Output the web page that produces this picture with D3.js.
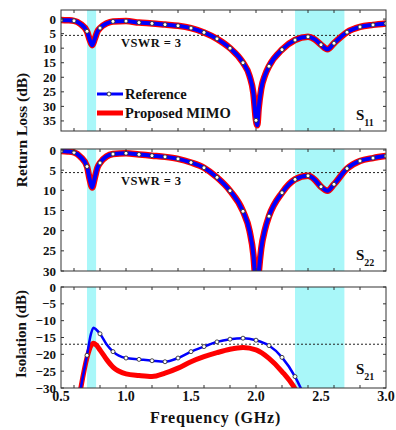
<!DOCTYPE html>
<html><head><meta charset="utf-8">
<script src="https://cdn.jsdelivr.net/npm/d3@7"></script>
<style>
body{margin:0;background:#fff}
text{font-family:"Liberation Serif","Times New Roman",serif;font-weight:bold;fill:#111}
</style>
</head><body>
<svg id="c" width="396" height="430"></svg>
<script>
// ---------- data ----------
const freqRL = [0.5,0.55,0.6,0.65,0.7,0.72,0.74,0.76,0.78,0.8,0.85,0.9,1.0,1.1,1.2,1.3,1.4,1.5,1.6,1.7,1.8,1.9,1.95,1.98,2.0,2.01,2.02,2.04,2.07,2.1,2.2,2.3,2.4,2.45,2.5,2.55,2.6,2.7,2.8,2.9,3.0];
const s11Ref = [0.3,0.4,0.6,1.7,4.2,7.0,9.0,6.8,4.3,3.1,1.5,0.8,0.7,1.2,1.5,1.9,2.3,3.1,4.6,6.8,10.0,15.0,19.5,25.5,34.8,36.5,31,24,19.2,16.2,10.5,7.2,6.1,6.9,8.8,10.4,8.3,4.5,2.7,2.0,1.5];
const s11Prop = [0.3,0.4,0.6,1.7,4.2,7.0,9.0,6.8,4.3,3.1,1.5,0.8,0.7,1.2,1.5,1.9,2.3,3.1,4.6,6.8,10.0,15.0,19.5,25.5,34.8,36.5,31,24,19.2,16.2,10.5,7.2,6.1,6.9,8.8,10.4,8.3,4.5,2.7,2.0,1.5];
const s22Ref = [0.25,0.35,0.6,1.7,4.1,7.2,9.3,6.9,4.4,3.2,1.6,1.0,0.8,1.1,1.4,1.7,2.2,3.1,4.4,6.8,10.1,15.2,20,26,34,36,31,24.5,19.6,16.4,10.6,7.3,6.4,7.3,9.1,10.1,8.5,4.6,2.7,2.0,1.5];
const s22Prop = [0.25,0.35,0.6,1.7,4.1,7.2,9.3,6.9,4.4,3.2,1.6,1.0,0.8,1.1,1.4,1.7,2.2,3.1,4.4,6.8,10.1,15.2,20,26,34,36,31,24.5,19.6,16.4,10.6,7.3,6.4,7.3,9.1,10.1,8.5,4.6,2.7,2.0,1.5];
const freqIso = [0.6,0.65,0.7,0.73,0.75,0.77,0.8,0.85,0.9,1.0,1.1,1.2,1.3,1.4,1.5,1.6,1.7,1.8,1.9,2.0,2.1,2.2,2.3,2.35,2.4];
const s21Ref = [-42,-30.5,-20.3,-14,-12.1,-12.6,-13.9,-17,-19.2,-21.1,-21.5,-21.9,-22.2,-21.1,-19.2,-17.7,-16.3,-15.5,-15.2,-15.8,-17.4,-20.9,-26.6,-30.5,-35];
const s21Prop = [-42,-30.5,-21,-17.5,-16.7,-17.2,-18.7,-21.5,-23.8,-25.8,-26.3,-26.6,-25.6,-24.1,-22.2,-20.7,-19.5,-18.5,-18.0,-18.7,-21.2,-25.1,-30.2,-34,-38];
const bands = [[0.70,0.77],[2.30,2.68]];
const xLabelTicks = [0.5,1.0,1.5,2.0,2.5,3.0];
const xMinorTicks = [0.6,0.8,1.0,1.2,1.4,1.6,1.8,2.0,2.2,2.4,2.6,2.8];
const yTicksRL1 = [0,5,10,15,20,25,30,35];
const yTicksRL2 = [0,5,10,15,20,25,30];
const yTicksIso = [0,-5,-10,-15,-20,-25,-30];
const vswrLine = 5.6, isoLine = -17;
const legendNames = ["Reference","Proposed MIMO"];

// ---------- layout ----------
const svg = d3.select("#c");
const L = 61, R = 386;
const x = d3.scaleLinear().domain([0.5,3.0]).range([L,R]);
const panels = [
  {top:10, bot:131, y:d3.scaleLinear().domain([-3.12,38.46]).range([10,131]), ticks:yTicksRL1, ref:s11Ref, prop:s11Prop, f:freqRL, sub:"11", dash:vswrLine, vswr:true, iso:false},
  {top:149, bot:271, y:d3.scaleLinear().domain([-0.25,30]).range([149,271]), ticks:yTicksRL2, ref:s22Ref, prop:s22Prop, f:freqRL, sub:"22", dash:vswrLine, vswr:true, iso:false},
  {top:287, bot:388, y:d3.scaleLinear().domain([0,-30]).range([287,388]), ticks:yTicksIso, ref:s21Ref, prop:s21Prop, f:freqIso, sub:"21", dash:isoLine, vswr:false, iso:true}
];

const defs = svg.append("defs");
panels.forEach((p,i)=>{
  defs.append("clipPath").attr("id","clip"+i).append("rect")
    .attr("x",L).attr("y",p.top).attr("width",R-L).attr("height",p.bot-p.top);
  const g = svg.append("g");
  const cg = g.append("g").attr("clip-path",`url(#clip${i})`);
  // bands
  bands.forEach(b=>{
    cg.append("rect").attr("x",x(b[0])).attr("width",x(b[1])-x(b[0]))
      .attr("y",p.top).attr("height",p.bot-p.top).attr("fill","#a9f7f9");
  });
  // dashed reference line
  cg.append("line").attr("x1",L).attr("x2",R).attr("y1",p.y(p.dash)).attr("y2",p.y(p.dash))
    .attr("stroke","#222").attr("stroke-width",1).attr("stroke-dasharray","2,2");
  const pts = (vals)=>p.f.map((f,k)=>[f,vals[k]]);
  const line = d3.line().x(d=>x(d[0])).y(d=>p.y(d[1])).curve(d3.curveMonotoneX);
  cg.append("path").attr("d",line(pts(p.prop))).attr("fill","none")
    .attr("stroke","#ff0000").attr("stroke-width",p.iso?5:6.5).attr("stroke-linejoin","round");
  cg.append("path").attr("d",line(pts(p.ref))).attr("fill","none")
    .attr("stroke","#0000ff").attr("stroke-width",p.iso?2.5:4).attr("stroke-linejoin","round");
  const marks = pts(p.ref).filter(d=>Math.abs(d[0]*10-Math.round(d[0]*10))<1e-6);
  cg.selectAll("circle.m").data(marks).enter().append("circle")
    .attr("cx",d=>x(d[0])).attr("cy",d=>p.y(d[1])).attr("r",2)
    .attr("fill","#fff").attr("stroke","#333").attr("stroke-width",0.9);
  // frame
  g.append("rect").attr("x",L).attr("y",p.top).attr("width",R-L).attr("height",p.bot-p.top)
    .attr("fill","none").attr("stroke","#333").attr("stroke-width",1);
  // x minor ticks (top & bottom, inward)
  xMinorTicks.forEach(t=>{
    g.append("line").attr("x1",x(t)).attr("x2",x(t)).attr("y1",p.bot).attr("y2",p.bot-3).attr("stroke","#333");
    g.append("line").attr("x1",x(t)).attr("x2",x(t)).attr("y1",p.top).attr("y2",p.top+3).attr("stroke","#333");
  });
  // y ticks left & right
  p.ticks.forEach(t=>{
    g.append("line").attr("x1",L).attr("x2",L+3).attr("y1",p.y(t)).attr("y2",p.y(t)).attr("stroke","#333");
    g.append("line").attr("x1",R).attr("x2",R-3).attr("y1",p.y(t)).attr("y2",p.y(t)).attr("stroke","#333");
    g.append("text").attr("x",56).attr("y",p.y(t)).attr("dy","0.35em")
      .attr("text-anchor","end").attr("font-size",13).text(t<0?"\u2212"+Math.abs(t):t);
  });
  // S label
  const st = g.append("text").attr("x",356).attr("y",p.bot-(i==2?14:11)).attr("font-size",15);
  st.append("tspan").text("S");
  st.append("tspan").attr("dy",6).attr("font-size",10).text(p.sub);
  if(p.vswr){
    g.append("text").attr("x",121).attr("y",p.y(p.dash)+12).attr("font-size",12.5)
      .attr("letter-spacing",0.4).text("VSWR = 3");
  }
});

// x tick labels
xLabelTicks.forEach(t=>{
  svg.append("text").attr("x",x(t)).attr("y",401).attr("text-anchor","middle")
    .attr("font-size",14).text(t.toFixed(1));
});
// axis titles
svg.append("text").attr("x",(L+R)/2-8).attr("y",423).attr("text-anchor","middle")
  .attr("font-size",16).attr("letter-spacing",0.8).text("Frequency (GHz)");
svg.append("text").attr("transform","translate(27,130) rotate(-90)").attr("text-anchor","middle")
  .attr("font-size",15.5).text("Return Loss (dB)");
svg.append("text").attr("transform","translate(26,334) rotate(-90)").attr("text-anchor","middle")
  .attr("font-size",15).text("Isolation (dB)");

// legend
const lg = svg.append("g");
lg.append("line").attr("x1",97).attr("x2",123).attr("y1",94).attr("y2",94).attr("stroke","#0000ff").attr("stroke-width",3);
lg.append("circle").attr("cx",109).attr("cy",94).attr("r",2).attr("fill","#fff").attr("stroke","#333").attr("stroke-width",0.9);
lg.append("text").attr("x",125).attr("y",98.5).attr("font-size",14.5).text(legendNames[0]);
lg.append("line").attr("x1",97).attr("x2",123).attr("y1",113).attr("y2",113).attr("stroke","#ff0000").attr("stroke-width",5);
lg.append("text").attr("x",125).attr("y",117.5).attr("font-size",14.5).text(legendNames[1]);
</script>
</body></html>
